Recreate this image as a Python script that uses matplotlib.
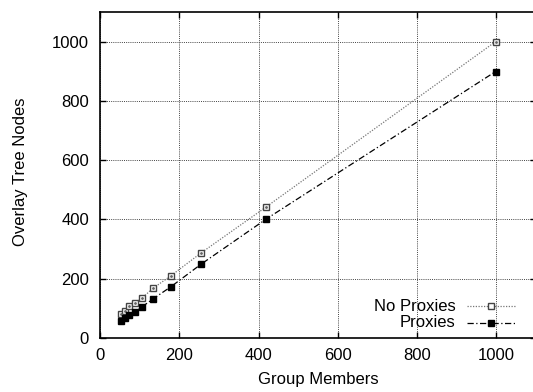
import numpy as np
import matplotlib.pyplot as plt
from matplotlib.lines import Line2D

plt.rcParams['font.family'] = ['Liberation Sans', 'DejaVu Sans']

# Overlay tree size vs. group size
members = [54, 63, 74, 88, 107, 134, 179, 255, 420, 998]
no_proxies = [81, 91, 107, 117, 136, 168, 210, 287, 443, 1000]
proxies = [57, 67, 77, 89, 106, 132, 173, 249, 402, 899]

x_ticks = [0, 200, 400, 600, 800, 1000]
y_ticks = [0, 200, 400, 600, 800, 1000]

fig = plt.figure(figsize=(5.33, 3.92), dpi=100)
ax = fig.add_axes([0.1876, 0.1378, 0.818, 0.8316])

ax.plot(members, no_proxies, color='#777777', linestyle=(0, (1, 1.2)), linewidth=0.9,
        marker='s', markersize=5, markerfacecolor='white', markeredgecolor='#444444',
        markeredgewidth=1.0)
ax.plot(members, no_proxies, linestyle='none', marker='.', markersize=2, color='#666666')
ax.plot(members, proxies, color='black', linestyle=(0, (5, 2, 1, 2)), linewidth=0.9,
        marker='s', markersize=4.6, markerfacecolor='black', markeredgecolor='black')

ax.set_xlim(0, 1100)
ax.set_ylim(0, 1100)
ax.set_xticks(x_ticks)
ax.set_yticks(y_ticks)
ax.tick_params(direction='in', length=4, width=1, labelsize=12, top=True, right=True)
ax.tick_params(axis='x', pad=7)
ax.tick_params(axis='y', pad=8)
ax.grid(True, color='#444444', linestyle=(0, (1, 1.2)), linewidth=0.7)
for s in ax.spines.values():
    s.set_linewidth(1.2)

ax.set_xlabel('Group Members', fontsize=12)
ax.set_ylabel('Overlay Tree Nodes', fontsize=12)
ax.xaxis.set_label_coords(0.5, -0.105)
ax.yaxis.set_label_coords(-0.165, 0.51)

# key in the lower right corner: labels right-aligned, sample lines after
tr = ax.transAxes
key_rows = [
    ('No Proxies', 0.098, dict(color='#777777', linestyle=(0, (1, 1.2)), marker='s',
                               markerfacecolor='white', markeredgecolor='#444444', markersize=5)),
    ('Proxies', 0.046, dict(color='black', linestyle=(0, (5, 2, 1, 2)), marker='s',
                            markerfacecolor='black', markeredgecolor='black', markersize=4.6)),
]
for label, ky, style in key_rows:
    ax.text(0.815, ky, label, transform=tr, ha='right', va='center', fontsize=12)
    ax.add_line(Line2D([0.842, 0.952], [ky, ky], transform=tr, linewidth=0.9,
                       color=style['color'], linestyle=style['linestyle']))
    ax.add_line(Line2D([0.897], [ky], transform=tr, linestyle='none',
                       **{k: v for k, v in style.items() if k != 'linestyle'}))

plt.savefig('out.png', dpi=100)
